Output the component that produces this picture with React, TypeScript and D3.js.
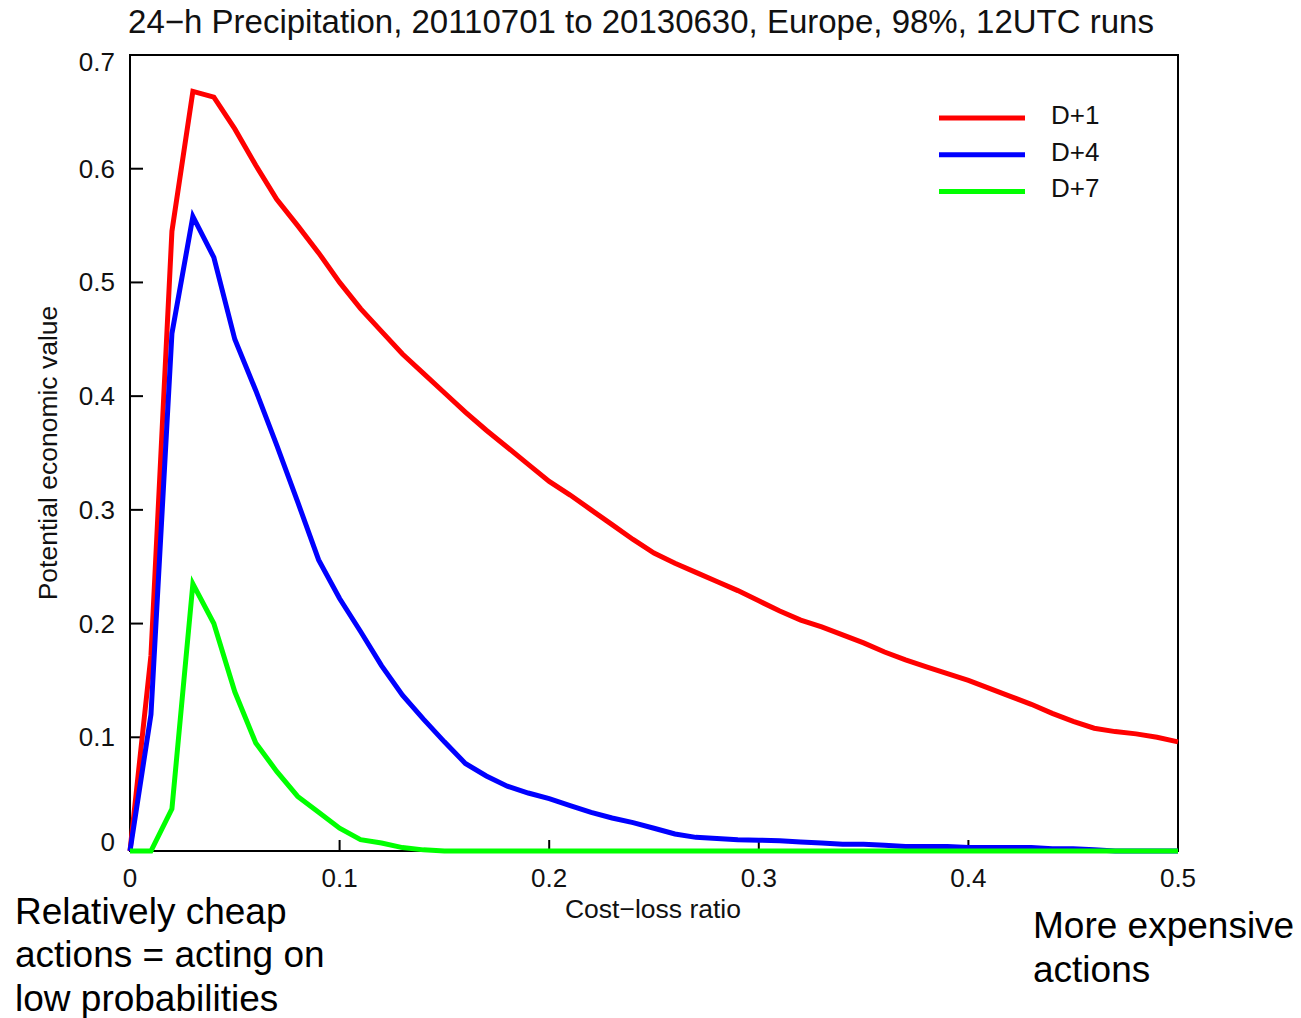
import React from "react";
import * as d3 from "d3";

const costLoss = d3.range(0, 51).map((i) => i / 100);
const d1 = [0, 0.172, 0.545, 0.668, 0.663, 0.635, 0.603, 0.573, 0.55, 0.526, 0.5, 0.477, 0.457, 0.437, 0.42, 0.403, 0.386, 0.37, 0.355, 0.34, 0.325, 0.313, 0.3, 0.287, 0.274, 0.262, 0.253, 0.245, 0.237, 0.229, 0.22, 0.211, 0.203, 0.197, 0.19, 0.183, 0.175, 0.168, 0.162, 0.156, 0.15, 0.143, 0.136, 0.129, 0.121, 0.114, 0.108, 0.105, 0.103, 0.1, 0.096];
const d4 = [0, 0.12, 0.455, 0.558, 0.522, 0.45, 0.405, 0.357, 0.307, 0.256, 0.222, 0.193, 0.163, 0.137, 0.116, 0.096, 0.077, 0.066, 0.057, 0.051, 0.046, 0.04, 0.034, 0.029, 0.025, 0.02, 0.015, 0.012, 0.011, 0.01, 0.0095, 0.009, 0.008, 0.007, 0.006, 0.006, 0.005, 0.004, 0.004, 0.004, 0.003, 0.003, 0.003, 0.003, 0.002, 0.002, 0.001, 0, 0, 0, 0];
const d7 = [0, 0, 0.037, 0.235, 0.2, 0.14, 0.095, 0.07, 0.048, 0.034, 0.02, 0.01, 0.007, 0.003, 0.001, 0, 0, 0, 0, 0, 0, 0, 0, 0, 0, 0, 0, 0, 0, 0, 0, 0, 0, 0, 0, 0, 0, 0, 0, 0, 0, 0, 0, 0, 0, 0, 0, 0, 0, 0, 0];
const seriesNames = ["D+1", "D+4", "D+7"];
const seriesColors = ["#ff0000", "#0000ff", "#00ff00"];
const xTicks = [0, 0.1, 0.2, 0.3, 0.4, 0.5];
const yTicks = [0, 0.1, 0.2, 0.3, 0.4, 0.5, 0.6, 0.7];
const xTickLabels = ["0", "0.1", "0.2", "0.3", "0.4", "0.5"];
const yTickLabels = ["0", "0.1", "0.2", "0.3", "0.4", "0.5", "0.6", "0.7"];

const FONT = "'Liberation Sans', Arial, Helvetica, sans-serif";

export default function App() {
  const left = 130, right = 1178, top = 55, bottom = 851;
  const x = d3.scaleLinear().domain([0, 0.5]).range([left, right]);
  const y = d3.scaleLinear().domain([0, 0.7]).range([bottom, top]);
  const line = d3
    .line<number>()
    .x((_, i) => x(costLoss[i]))
    .y((v) => y(v));
  const series = [d1, d4, d7];
  const yLabelOffset = (i: number) => (i === 0 ? 0 : i === yTicks.length - 1 ? 16 : 9);
  return (
    <svg
      width={1301}
      height={1018}
      style={{ position: "absolute", left: 0, top: 0, background: "#fff" }}
      fontFamily={FONT}
    >
      <rect x={0} y={0} width={1301} height={1018} fill="#fff" />
      <text x={641} y={33} fontSize={33} textAnchor="middle" fill="#111">
        24−h Precipitation, 20110701 to 20130630, Europe, 98%, 12UTC runs
      </text>
      {/* frame */}
      <rect x={left} y={top} width={right - left} height={bottom - top} fill="none" stroke="#000" strokeWidth={2} />
      {/* ticks */}
      {xTicks.map((t, i) => (
        <g key={"xt" + i}>
          <line x1={x(t)} x2={x(t)} y1={bottom} y2={bottom - 11} stroke="#000" strokeWidth={2} />
          <text x={x(t)} y={bottom + 36} fontSize={26} textAnchor="middle" fill="#111">
            {xTickLabels[i]}
          </text>
        </g>
      ))}
      {yTicks.map((t, i) => (
        <g key={"yt" + i}>
          <line x1={left} x2={left + 13} y1={y(t)} y2={y(t)} stroke="#000" strokeWidth={2} />
          <text x={left - 15} y={y(t) + yLabelOffset(i)} fontSize={26} textAnchor="end" fill="#111">
            {yTickLabels[i]}
          </text>
        </g>
      ))}
      <text x={653} y={918} fontSize={26.5} textAnchor="middle" fill="#111">
        Cost−loss ratio
      </text>
      <text
        transform={`translate(57,453) rotate(-90)`}
        fontSize={26.5}
        textAnchor="middle"
        fill="#111"
      >
        Potential economic value
      </text>
      {/* lines */}
      {series.map((s, k) => (
        <path key={"s" + k} d={line(s) || ""} fill="none" stroke={seriesColors[k]} strokeWidth={5} strokeLinejoin="miter" />
      ))}
      {/* legend */}
      {seriesNames.map((n, k) => (
        <g key={"lg" + k}>
          <line x1={939} x2={1025} y1={118 + k * 36.7} y2={118 + k * 36.7} stroke={seriesColors[k]} strokeWidth={5} />
          <text x={1051} y={124 + k * 36.7} fontSize={26} fill="#111">
            {n}
          </text>
        </g>
      ))}
      {/* annotations */}
      <g fontSize={37} fill="#000">
        <text x={15} y={924}>Relatively cheap</text>
        <text x={15} y={967}>actions = acting on</text>
        <text x={15} y={1011}>low probabilities</text>
        <text x={1033} y={938}>More expensive</text>
        <text x={1033} y={982}>actions</text>
      </g>
    </svg>
  );
}
